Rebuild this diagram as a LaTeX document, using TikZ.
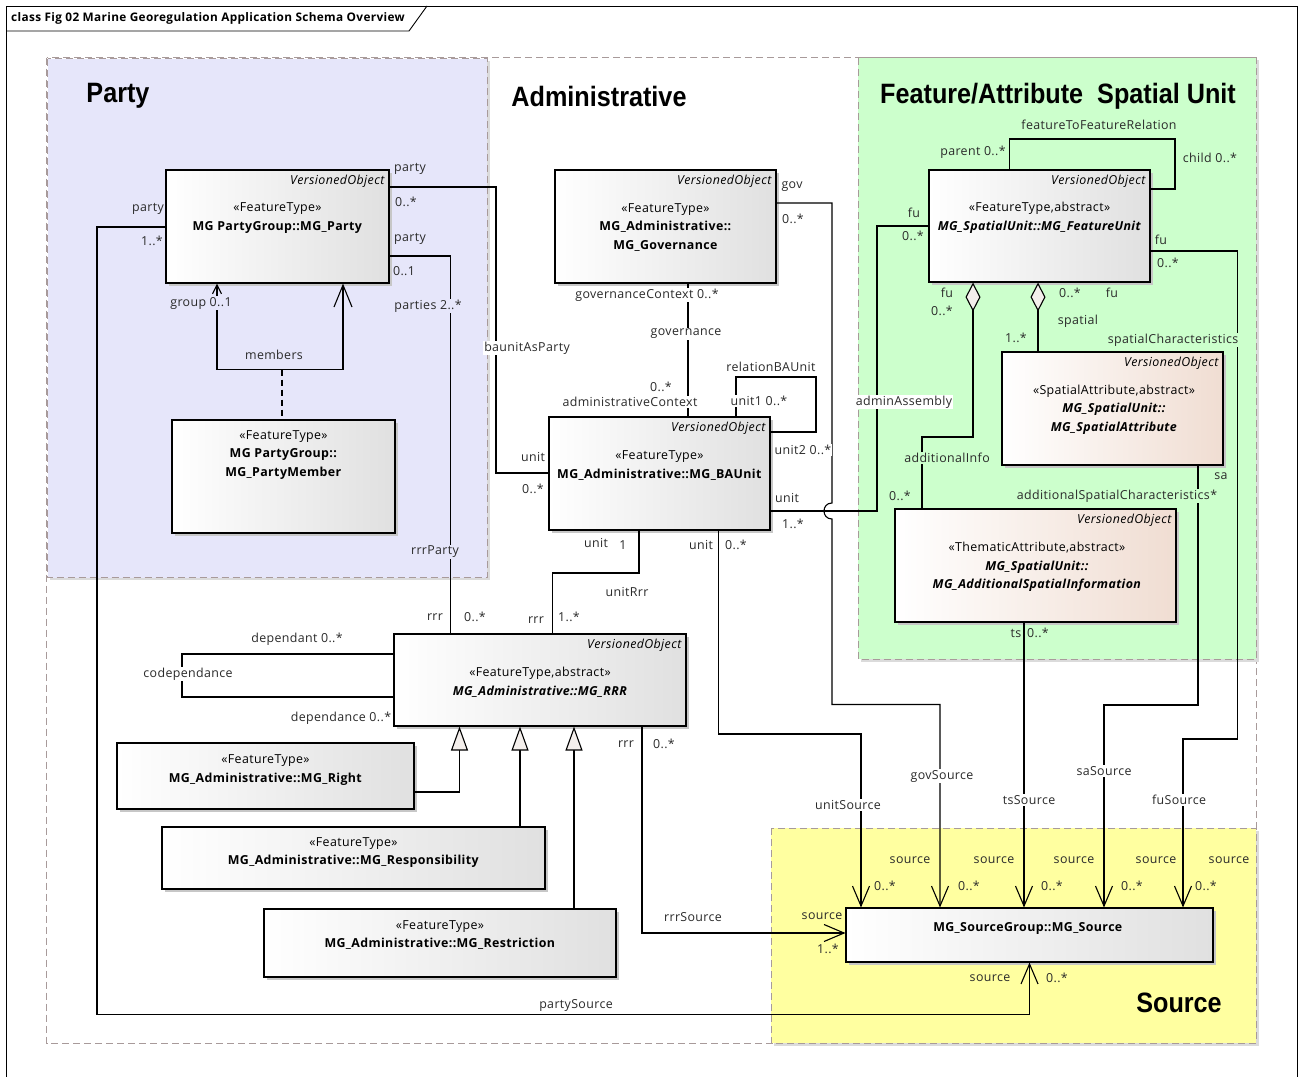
\documentclass[tikz,border=0pt]{standalone}
\usepackage{fontspec}
\setmainfont{Open Sans}[LetterSpace=3]
\newfontfamily\titlefont{Liberation Sans}[FakeStretch=0.9]
\usetikzlibrary{arrows.meta,positioning,shadows}
\definecolor{partyLav}{HTML}{E6E6FA}
\definecolor{featGreen}{HTML}{CCFFCC}
\definecolor{srcYellow}{HTML}{FFFFA0}
\definecolor{pkgEdge}{HTML}{A89A9A}
\definecolor{clsGray}{HTML}{E0E0E0}
\definecolor{clsBeige}{HTML}{F0DDD2}
\definecolor{tipFill}{HTML}{F4EFEC}
\definecolor{lblText}{HTML}{2A2A2A}

\begin{document}
\begin{tikzpicture}[x=1pt,y=-1pt,
  every node/.style={font=\fontsize{12.4}{14}\selectfont},
  pkg/.style={draw=pkgEdge,line width=1pt,dash pattern=on 7pt off 4pt},
  pkgshadow/.style={drop shadow={shadow xshift=2.5pt,shadow yshift=-2.5pt,fill=black!14,opacity=1}},
  pkgtitle/.style={font=\titlefont\bfseries\fontsize{28}{30}\selectfont,inner sep=0pt},
  cls/.style={draw,line width=1.1pt,inner sep=0pt,left color=white,right color=clsGray,
    drop shadow={shadow xshift=3pt,shadow yshift=-3pt,fill=black!22,opacity=1}},
  attcls/.style={cls,right color=clsBeige},
  vo/.style={anchor=north east,inner sep=0pt,font=\itshape\fontsize{12.4}{14}\selectfont},
  ctext/.style={align=center,inner sep=0pt,font=\fontsize{12.4}{18.6}\selectfont},
  lbl/.style={inner sep=1pt,text=lblText},
  lblw/.style={lbl,fill=white},
  lblg/.style={lbl,fill=featGreen},
  lblp/.style={lbl,fill=partyLav},
  assoc/.style={line width=1.1pt},
  nav/.style={assoc,-{Straight Barb[length=20pt,width=17pt]}},
  gen/.style={assoc,-{Triangle[length=24pt,width=17pt,fill=tipFill]}},
  agg/.style={assoc,{Diamond[length=29pt,width=15pt,fill=tipFill]}-}]

  \useasboundingbox (0,0) rectangle (1298,1076);

  % diagram frame
  \draw[line width=0.9pt] (6,1080) -- (6,6) -- (1297,6) -- (1297,1080);
  \draw[line width=0.9pt] (6,31) -- (409,31) -- (427,6);
  \node[anchor=west,inner sep=0pt,font=\bfseries\fontsize{11.8}{14}\selectfont] (frameTitle) at (11,18)
    {class Fig 02 Marine Georegulation Application Schema Overview};

  % packages
  \draw[pkg,fill=white] (46.5,57.5) rectangle (1256,1043);
  \draw[pkg,pkgshadow,fill=partyLav] (47.5,58.5) rectangle (487,577.5);
  \draw[pkg,pkgshadow,fill=featGreen] (858,57.5) rectangle (1256,659);
  \draw[pkg,pkgshadow,fill=srcYellow] (771,828) rectangle (1256,1043);

  \node[pkgtitle] (tParty) at (118,96) {Party};
  \node[pkgtitle] (tAdmin) at (599,96) {Administrative};
  \node[pkgtitle] (tFeat) at (1058,96) {Feature/Attribute\ \ Spatial Unit};
  \node[pkgtitle] (tSource) at (1179,1003) {Source};

  % classes
  \node[cls,minimum width=223pt,minimum height=113pt] (party) at (277.5,226.5) {};
  \node[vo] (partyVO) at ([xshift=-5pt,yshift=-5pt]party.north east) {VersionedObject};
  \node[ctext] (partyTxt) at (277.5,218) {«FeatureType»\\\textbf{MG PartyGroup::MG\_Party}};

  \node[cls,minimum width=223pt,minimum height=113pt] (member) at (283.5,476.5) {};
  \node[ctext] (memberTxt) at (283.5,455) {«FeatureType»\\\textbf{MG PartyGroup::}\\\textbf{MG\_PartyMember}};

  \node[cls,minimum width=221pt,minimum height=113pt] (gov) at (665.5,226.5) {};
  \node[vo] (govVO) at ([xshift=-5pt,yshift=-5pt]gov.north east) {VersionedObject};
  \node[ctext] (govTxt) at (665.5,227.5) {«FeatureType»\\\textbf{MG\_Administrative::}\\\textbf{MG\_Governance}};

  \node[cls,minimum width=221pt,minimum height=113pt] (baunit) at (659.5,473.5) {};
  \node[vo] (baunitVO) at ([xshift=-5pt,yshift=-5pt]baunit.north east) {VersionedObject};
  \node[ctext] (baunitTxt) at (659.5,465.5) {«FeatureType»\\\textbf{MG\_Administrative::MG\_BAUnit}};

  \node[cls,minimum width=221pt,minimum height=112pt] (featu) at (1039.5,226) {};
  \node[vo] (featuVO) at ([xshift=-5pt,yshift=-5pt]featu.north east) {VersionedObject};
  \node[ctext] (featuTxt) at (1039.5,218) {«FeatureType,abstract»\\\textbf{\textit{MG\_SpatialUnit::MG\_FeatureUnit}}};

  \node[attcls,minimum width=221pt,minimum height=113pt] (spatt) at (1112.5,408.5) {};
  \node[vo] (spattVO) at ([xshift=-5pt,yshift=-5pt]spatt.north east) {VersionedObject};
  \node[ctext] (spattTxt) at (1114,409.5) {«SpatialAttribute,abstract»\\\textbf{\textit{MG\_SpatialUnit::}}\\\textbf{\textit{MG\_SpatialAttribute}}};

  \node[attcls,minimum width=281pt,minimum height=113pt] (addinfo) at (1035.5,565.5) {};
  \node[vo] (addinfoVO) at ([xshift=-5pt,yshift=-5pt]addinfo.north east) {VersionedObject};
  \node[ctext] (addinfoTxt) at (1037,567) {«ThematicAttribute,abstract»\\\textbf{\textit{MG\_SpatialUnit::}}\\\textbf{\textit{MG\_AdditionalSpatialInformation}}};

  \node[cls,minimum width=292pt,minimum height=92pt] (rrr) at (540,680) {};
  \node[vo] (rrrVO) at ([xshift=-5pt,yshift=-5pt]rrr.north east) {VersionedObject};
  \node[ctext] (rrrTxt) at (540,682) {«FeatureType,abstract»\\\textbf{\textit{MG\_Administrative::MG\_RRR}}};

  \node[cls,minimum width=297pt,minimum height=66pt] (right) at (265.5,776) {};
  \node[ctext] (rightTxt) at (265.5,770) {«FeatureType»\\\textbf{MG\_Administrative::MG\_Right}};

  \node[cls,minimum width=383pt,minimum height=62pt] (resp) at (353.5,858) {};
  \node[ctext] (respTxt) at (353.5,852.5) {«FeatureType»\\\textbf{MG\_Administrative::MG\_Responsibility}};

  \node[cls,minimum width=352pt,minimum height=68pt] (restr) at (440,943) {};
  \node[ctext] (restrTxt) at (440,935) {«FeatureType»\\\textbf{MG\_Administrative::MG\_Restriction}};

  \node[cls,minimum width=367pt,minimum height=54pt] (source) at (1029.5,935) {};
  \node[ctext] (sourceTxt) at (1028,928) {\textbf{MG\_SourceGroup::MG\_Source}};

  % associations of the party package
  \draw[nav] (party.west |- 0,227) -| (97,1014.5) -| (source.south);
  \draw[assoc] (party.east |- 0,187) -| (496,473) -- (baunit.west |- 0,473);
  \draw[assoc] (party.east |- 0,256) -| (450.5,0 |- rrr.north);
  \coordinate (membersMid) at (282,369.5);
  \draw[assoc,{Straight Barb[length=9pt,width=9pt]}-{Straight Barb[length=22pt,width=18pt]}]
    (217,0 |- party.south) |- (membersMid) -| (343,0 |- party.south);
  \draw[assoc,dash pattern=on 6pt off 4pt] (membersMid) -- (membersMid |- member.north);

  % associations of the administrative package
  \draw[assoc] (688,0 |- gov.south) -- (688,0 |- baunit.north);
  \draw[assoc] (736,0 |- baunit.north) |- (816,377) |- (baunit.east |- 0,432);
  \draw[nav] (gov.east |- 0,203) -| (832,503) .. controls (821.3,503) and (821.3,519) .. (832,519)
    -- (832,704.5) -| (940,0 |- source.north);
  \draw[nav] (718.5,0 |- baunit.south) |- (861,734) -- (861,0 |- source.north);
  \draw[assoc] (639,0 |- baunit.south) |- (552.5,573) -- (552.5,0 |- rrr.north);
  \draw[assoc] (baunit.east |- 0,511) -| (877,226) -- (featu.west |- 0,226);
  \draw[assoc] (rrr.west |- 0,654) -| (182,697) -- (rrr.west |- 0,697);
  \draw[nav] (642,0 |- rrr.south) |- (source.west |- 0,933);
  \draw[gen] (right.east |- 0,792) -| (459.5,0 |- rrr.south);
  \draw[gen] (520,0 |- resp.north) -- (520,0 |- rrr.south);
  \draw[gen] (574,0 |- restr.north) -- (574,0 |- rrr.south);

  % associations of the spatial unit package
  \draw[assoc] (1009.5,0 |- featu.north) |- (1175,139) |- (featu.east |- 0,189);
  \draw[nav] (featu.east |- 0,251) -| (1237.5,739) -| (1183,0 |- source.north);
  \draw[agg] (973,0 |- featu.south) -- (973,437) -| (922,0 |- addinfo.north);
  \draw[agg] (1038,0 |- featu.south) -- (1038,0 |- spatt.north);
  \draw[nav] (1198,0 |- spatt.south) |- (1104,705) -- (1104,0 |- source.north);
  \draw[nav] (1024,0 |- addinfo.south) -- (1024,0 |- source.north);

  % role names and multiplicities
  \node[lbl] (l01) at (148,209) {party};
  \node[lbl] (l02) at (152,241) {1..*};
  \node[lbl] (l03) at (410,169) {party};
  \node[lbl] (l04) at (406,202) {0..*};
  \node[lbl] (l05) at (410,239) {party};
  \node[lbl] (l06) at (404,271) {0..1};
  \node[lblp] (l07) at (201,303) {group 0..1};
  \node[lblp] (l08) at (428,306) {parties 2..*};
  \node[lbl] (l09) at (274,355) {members};
  \node[lblp] (l10) at (435,552) {rrrParty};

  \node[lblw] (l11) at (527,348) {baunitAsParty};
  \node[lbl] (l12) at (533,457) {unit};
  \node[lbl] (l13) at (533,489) {0..*};
  \node[lbl] (l14) at (792,187) {gov};
  \node[lbl] (l15) at (793,219) {0..*};
  \node[lblw] (l16) at (647,295) {governanceContext 0..*};
  \node[lblw] (l17) at (686,334) {governance};
  \node[lbl] (l18) at (661,387) {0..*};
  \node[lblw] (l19) at (630,402) {administrativeContext};
  \node[lbl] (l20) at (771,367) {relationBAUnit};
  \node[lblw] (l21) at (759,401) {unit1 0..*};
  \node[lblw] (l22) at (803,450) {unit2 0..*};
  \node[lbl] (l23) at (787,498) {unit};
  \node[lbl] (l24) at (793,524) {1..*};
  \node[lbl] (l25) at (596,543) {unit};
  \node[lbl] (l26) at (623,545) {1};
  \node[lbl] (l27) at (701,545) {unit};
  \node[lbl] (l28) at (736,545) {0..*};
  \node[lbl] (l29) at (627,592) {unitRrr};
  \node[lbl] (l30) at (435,617) {rrr};
  \node[lbl] (l31) at (475,617) {0..*};
  \node[lbl] (l32) at (536,620) {rrr};
  \node[lbl] (l33) at (569,617) {1..*};
  \node[lbl] (l34) at (297,639) {dependant 0..*};
  \node[lblw] (l35) at (188,674) {codependance};
  \node[lbl] (l36) at (341,718) {dependance 0..*};
  \node[lbl] (l37) at (626,744) {rrr};
  \node[lbl] (l38) at (664,744) {0..*};
  \node[lbl] (l39) at (693,917) {rrrSource};
  \node[lbl] (l40) at (822,916) {source};
  \node[lbl] (l41) at (828,949) {1..*};
  \node[lbl] (l42) at (576,1005) {partySource};
  \node[lblw] (l43) at (848,805) {unitSource};
  \node[lblw] (l44) at (942,776) {govSource};
  \node[lblw] (l45) at (1029,800) {tsSource};
  \node[lblw] (l46) at (1104,771) {saSource};
  \node[lblw] (l47) at (1179,800) {fuSource};

  \node[lbl] (l48) at (1099,125) {featureToFeatureRelation};
  \node[lbl] (l49) at (973,152) {parent 0..*};
  \node[lbl] (l50) at (1210,158) {child 0..*};
  \node[lbl] (l51) at (914,213) {fu};
  \node[lbl] (l52) at (913,236) {0..*};
  \node[lbl] (l53) at (1161,240) {fu};
  \node[lbl] (l54) at (1168,263) {0..*};
  \node[lbl] (l55) at (947,293) {fu};
  \node[lbl] (l56) at (942,311) {0..*};
  \node[lbl] (l57) at (1070,293) {0..*};
  \node[lbl] (l58) at (1112,293) {fu};
  \node[lbl] (l59) at (1078,321) {spatial};
  \node[lbl] (l60) at (1016,338) {1..*};
  \node[lblg] (l61) at (1173,340) {spatialCharacteristics};
  \node[lblw] (l62) at (904,402) {adminAssembly};
  \node[lblg] (l63) at (947,458) {additionalInfo};
  \node[lbl] (l64) at (900,496) {0..*};
  \node[lbl] (l65) at (1221,476) {sa};
  \node[lblg] (l66) at (1117,496) {additionalSpatialCharacteristics*};
  \node[lbl] (l67) at (1016,633) {ts};
  \node[lbl] (l68) at (1038,633) {0..*};

  \node[lbl] (l69) at (910,860) {source};
  \node[lbl] (l70) at (994,860) {source};
  \node[lbl] (l71) at (1074,860) {source};
  \node[lbl] (l72) at (1156,860) {source};
  \node[lbl] (l73) at (1229,860) {source};
  \node[lbl] (l74) at (885,886) {0..*};
  \node[lbl] (l75) at (969,886) {0..*};
  \node[lbl] (l76) at (1052,886) {0..*};
  \node[lbl] (l77) at (1132,886) {0..*};
  \node[lbl] (l78) at (1206,886) {0..*};
  \node[lbl] (l79) at (990,978) {source};
  \node[lbl] (l80) at (1057,978) {0..*};
\end{tikzpicture}
\end{document}
